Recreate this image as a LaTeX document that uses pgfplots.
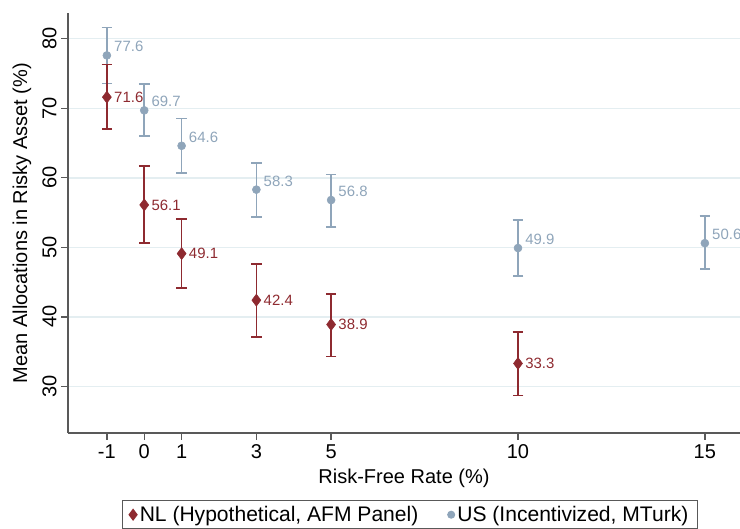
\documentclass[border=0pt]{standalone}
\usepackage{fontspec}
\setmainfont{Liberation Sans}
\usepackage{pgfplots}
\usepackage{pgfplotstable}
\pgfplotsset{compat=1.18}
\definecolor{nl}{HTML}{8E2A30}
\definecolor{us}{HTML}{8FA5BA}
\definecolor{gridc}{HTML}{E4EEF1}
\definecolor{axc}{HTML}{595959}

\pgfplotstableread{
x y ep em
-1 71.6 4.7 4.6
0 56.1 5.6 5.5
1 49.1 4.95 4.95
3 42.4 5.2 5.3
5 38.9 4.4 4.6
10 33.3 4.5 4.6
}\nldata
\pgfplotstableread{
x y ep em
-1 77.6 4.0 4.05
0 69.7 3.75 3.7
1 64.6 3.9 3.9
3 58.3 3.85 3.9
5 56.8 3.7 3.9
10 49.9 4.0 4.0
15 50.6 3.9 3.7
}\usdata

\begin{document}
\begin{tikzpicture}
\begin{axis}[
  at={(0,0)}, anchor=south west,
  scale only axis, width=504pt, height=315pt,
  xmin=-2.04, xmax=15.94, ymin=23.3, ymax=83.7,
  axis x line*=bottom, axis y line*=left,
  axis line style={axc, line width=1.1pt, -},
  xtick={-1,0,1,3,5,10,15}, xticklabels={-1,0,1,3,5,10,15},
  ytick={30,40,...,80},
  tick align=outside, major tick length=5pt,
  tick style={axc, line width=1pt},
  ymajorgrids, grid style={gridc, line width=1.1pt},
  /pgf/number format/assume math mode=true,
  ticklabel style={font=\fontsize{15}{18}\selectfont},
  yticklabel style={rotate=90, anchor=south},
  xlabel={Risk-Free Rate (\%)},
  ylabel={Mean Allocations in Risky Asset (\%)},
  label style={font=\fontsize{15}{18}\selectfont},
  xlabel style={at={(axis description cs:0.5,-0.107)}, anchor=center},
  ylabel style={at={(axis description cs:-0.0685,0.5)}, anchor=center},
  legend style={at={(axis description cs:0.509,-0.16)}, anchor=north,
    draw=axc, line width=0.8pt, font=\fontsize{15.8}{18}\selectfont,
    inner xsep=5pt,
    legend columns=2, /tikz/every even column/.append style={column sep=20pt}},
  legend cell align=left,
  clip=false,
]
\addlegendimage{only marks, mark=diamond*, mark size=4pt, nl}
\addlegendentry{NL (Hypothetical, AFM Panel)}
\addlegendimage{only marks, mark=*, mark size=2.6pt, us}
\addlegendentry{US (Incentivized, MTurk)}

\addplot[forget plot, only marks, mark=*, mark size=3pt, color=us,
  error bars/.cd, y dir=both, y explicit,
  error bar style={line width=1.2pt, us},
  error mark=-,
  error mark options={rotate=90, line width=1.2pt, mark size=4pt, us},
  ]
  table[x=x, y=y, y error plus=ep, y error minus=em]{\usdata};
\addplot[forget plot, only marks, mark=diamond*, mark size=4.5pt, color=nl,
  error bars/.cd, y dir=both, y explicit,
  error bar style={line width=1.2pt, nl},
  error mark=-,
  error mark options={rotate=90, line width=1.2pt, mark size=4pt, nl},
  ]
  table[x=x, y=y, y error plus=ep, y error minus=em]{\nldata};

\addplot[forget plot, only marks, mark=none, point meta=y,
  nodes near coords={\pgfmathprintnumber[fixed,fixed zerofill,precision=1]{\pgfplotspointmeta}},
  nodes near coords style={anchor=west, xshift=2pt, yshift=6.5pt, text=us, font=\fontsize{11.2}{13}\selectfont}]
  table[x=x, y=y]{\usdata};
\addplot[forget plot, only marks, mark=none, point meta=y,
  nodes near coords={\pgfmathprintnumber[fixed,fixed zerofill,precision=1]{\pgfplotspointmeta}},
  nodes near coords style={anchor=west, xshift=2pt, text=nl, font=\fontsize{11.2}{13}\selectfont}]
  table[x=x, y=y]{\nldata};
\end{axis}
\pgfresetboundingbox
\path[use as bounding box] (-51pt,-72pt) rectangle (504pt,324.75pt);
\end{tikzpicture}
\end{document}
